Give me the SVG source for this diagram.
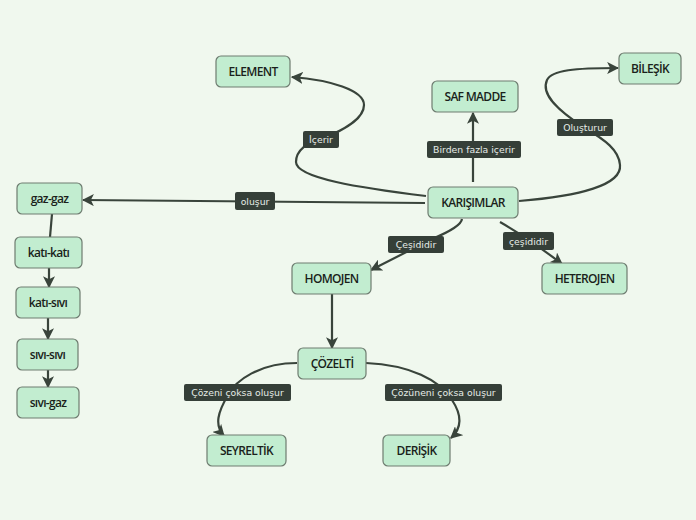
<svg xmlns="http://www.w3.org/2000/svg" width="696" height="520" viewBox="0 0 696 520">
<style>
.n rect{fill:#c2edd0;stroke:#6e7c70;stroke-width:1.2}
.n text{font-family:"Open Sans","Noto Sans",sans-serif;font-weight:600;font-size:12px;fill:#1a1f1b;text-anchor:middle;letter-spacing:-0.7px}
.c path{fill:none;stroke:#39443b;stroke-width:2.2}
.l rect{fill:#353f38}
.l text{font-family:"DejaVu Sans",sans-serif;font-size:9.3px;fill:#e6ece7;text-anchor:middle}
</style>
<defs>
<marker id="a" viewBox="0 0 10 10" refX="9" refY="5" markerWidth="5.5" markerHeight="5.5" orient="auto" markerUnits="strokeWidth">
<path d="M0,0 L10,5 L0,10 L2.5,5 Z" fill="#39443b"/>
</marker>
</defs>
<rect width="696" height="520" fill="#f0f8ee"/>
<g class="c" id="connectors">
<path d="M426 196 C360 188,296 178,296 162 C296 150,308 142,321 139 C345 130,364 118,364 105 C364 90,330 80,292 77" marker-end="url(#a)"/>
<path d="M473 182 L473 113" marker-end="url(#a)"/>
<path d="M519 201 C580 196,622 185,620 165 C619 150,605 140,585 128 C560 112,540 95,547 80 C552 70,575 68,618 68" marker-end="url(#a)"/>
<path d="M425 203 L83 200" marker-end="url(#a)"/>
<path d="M462 219 Q461 227,432 239 L371 270" marker-end="url(#a)"/>
<path d="M500 222 Q528 238,562 264" marker-end="url(#a)"/>
<path d="M52 214 L50 237"/>
<path d="M49 268 L49 287" marker-end="url(#a)"/>
<path d="M48 318 L48 339" marker-end="url(#a)"/>
<path d="M48 370 L48 387" marker-end="url(#a)"/>
<path d="M332 294 L332 348" marker-end="url(#a)"/>
<path d="M297 363 C260 363,236 380,228 395 C218 412,214 425,224 436" marker-end="url(#a)"/>
<path d="M366 363 C410 365,440 380,452 400 C462 415,462 428,451 438" marker-end="url(#a)"/>
</g>
<g class="l" id="labels">
<g id="l-icerir"><rect x="303" y="131" width="36" height="17" rx="2"/><text x="321" y="143">İçerir</text></g>
<g id="l-birden"><rect x="427" y="141" width="94" height="17" rx="2"/><text x="474" y="153">Birden fazla içerir</text></g>
<g id="l-olusturur"><rect x="557" y="119" width="56" height="17" rx="2"/><text x="585" y="131">Oluşturur</text></g>
<g id="l-olusur"><rect x="235" y="192" width="40" height="18" rx="2"/><text x="255" y="204.5">oluşur</text></g>
<g id="l-cesididir1"><rect x="388" y="236" width="56" height="17" rx="2"/><text x="416" y="248">Çeşididir</text></g>
<g id="l-cesididir2"><rect x="503" y="232" width="51" height="18" rx="2"/><text x="528.5" y="244.5">çeşididir</text></g>
<g id="l-cozeni"><rect x="184" y="384" width="107" height="17" rx="2"/><text x="237.5" y="396">Çözeni çoksa oluşur</text></g>
<g id="l-cozuneni"><rect x="385" y="384" width="117" height="17" rx="2"/><text x="443.5" y="396">Çözüneni çoksa oluşur</text></g>
</g>
<g class="n" id="element"><rect x="216" y="56" width="74" height="31" rx="5"/><text x="253" y="76">ELEMENT</text></g>
<g class="n" id="safmadde"><rect x="432" y="81" width="86" height="31" rx="5"/><text x="475" y="101">SAF MADDE</text></g>
<g class="n" id="bilesik"><rect x="619" y="53" width="62" height="31" rx="5"/><text x="650" y="73">BİLEŞİK</text></g>
<g class="n" id="karisimlar"><rect x="428" y="187" width="90" height="31" rx="5"/><text x="473" y="207">KARIŞIMLAR</text></g>
<g class="n" id="homojen"><rect x="292" y="263" width="79" height="31" rx="5"/><text x="331.5" y="283">HOMOJEN</text></g>
<g class="n" id="heterojen"><rect x="542" y="263" width="85" height="31" rx="5"/><text x="584.5" y="283">HETEROJEN</text></g>
<g class="n" id="cozelti"><rect x="298" y="348" width="68" height="31" rx="5"/><text x="332" y="368">ÇÖZELTİ</text></g>
<g class="n" id="seyreltik"><rect x="207" y="435" width="79" height="31" rx="5"/><text x="246.5" y="455">SEYRELTİK</text></g>
<g class="n" id="derisik"><rect x="383" y="435" width="67" height="31" rx="5"/><text x="416.5" y="455">DERİŞİK</text></g>
<g class="n" id="gazgaz"><rect x="17" y="183" width="65" height="31" rx="5"/><text x="49.5" y="203">gaz-gaz</text></g>
<g class="n" id="katikati"><rect x="15" y="237" width="67" height="31" rx="5"/><text x="48.5" y="257">katı-katı</text></g>
<g class="n" id="katisivi"><rect x="16" y="287" width="64" height="31" rx="5"/><text x="48" y="307">katı-sıvı</text></g>
<g class="n" id="sivisivi"><rect x="17" y="339" width="61" height="31" rx="5"/><text x="47.5" y="359">sıvı-sıvı</text></g>
<g class="n" id="sivigaz"><rect x="17" y="387" width="62" height="31" rx="5"/><text x="48" y="407">sıvı-gaz</text></g>
</svg>
